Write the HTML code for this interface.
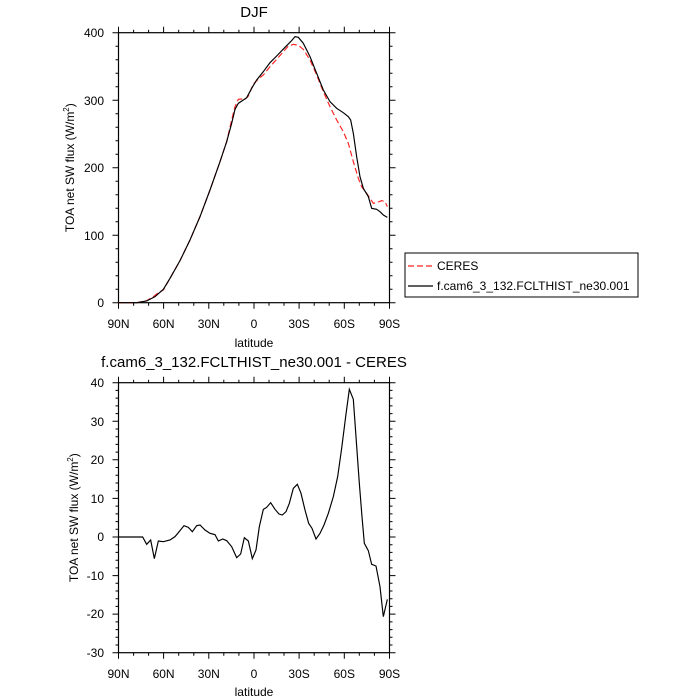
<!DOCTYPE html>
<html><head><style>body{margin:0;background:#fff}svg{display:block}text{font-family:"Liberation Sans",sans-serif;fill:#000}</style></head>
<body>
<svg width="700" height="700" viewBox="0 0 700 700">
<defs>
<g id="xt" stroke="#000" stroke-width="1">
<path d="M118.5 0v6M163.6 0v6M208.8 0v6M254 0v6M299.1 0v6M344.3 0v6M389.5 0v6"/>
<path d="M133.6 0v3M148.6 0v3M178.7 0v3M193.8 0v3M223.8 0v3M238.9 0v3M269 0v3M284 0v3M314.2 0v3M329.2 0v3M359.3 0v3M374.4 0v3"/>
</g>
</defs>
<!-- top plot -->
<rect x="118.5" y="32.7" width="271" height="270" fill="none" stroke="#000" stroke-width="1.2"/>
<use href="#xt" transform="translate(0,302.7)"/>
<use href="#xt" transform="translate(0,32.7) scale(1,-1)"/>
<g stroke="#000" stroke-width="1">
<path d="M112.5 32.7h6M112.5 100.2h6M112.5 167.7h6M112.5 235.2h6M112.5 302.7h6M389.5 32.7h6M389.5 100.2h6M389.5 167.7h6M389.5 235.2h6M389.5 302.7h6"/>
<path d="M115.5 46.2h3M115.5 59.7h3M115.5 73.2h3M115.5 86.7h3M115.5 113.7h3M115.5 127.2h3M115.5 140.7h3M115.5 154.2h3M115.5 181.2h3M115.5 194.7h3M115.5 208.2h3M115.5 221.7h3M115.5 248.7h3M115.5 262.2h3M115.5 275.7h3M115.5 289.2h3"/>
<path d="M389.5 46.2h3M389.5 59.7h3M389.5 73.2h3M389.5 86.7h3M389.5 113.7h3M389.5 127.2h3M389.5 140.7h3M389.5 154.2h3M389.5 181.2h3M389.5 194.7h3M389.5 208.2h3M389.5 221.7h3M389.5 248.7h3M389.5 262.2h3M389.5 275.7h3M389.5 289.2h3"/>
</g>
<g font-size="12" text-anchor="end"><text x="104" y="37">400</text><text x="104" y="105">300</text><text x="104" y="172">200</text><text x="104" y="240">100</text><text x="104" y="307">0</text></g>
<g font-size="12" text-anchor="middle"><text x="118.5" y="328">90N</text><text x="163.6" y="328">60N</text><text x="208.8" y="328">30N</text><text x="254" y="328">0</text><text x="299.1" y="328">30S</text><text x="344.3" y="328">60S</text><text x="389.5" y="328">90S</text></g>
<text x="254" y="347" font-size="12" text-anchor="middle">latitude</text>
<text x="254" y="17" font-size="15" text-anchor="middle">DJF</text>
<text transform="translate(74,167.7) rotate(-90)" font-size="12" text-anchor="middle">TOA net SW flux (W/m<tspan font-size="8" dy="-5">2</tspan><tspan dy="5">)</tspan></text>
<g transform="translate(100,20) scale(0.33333)" fill="none">
<path stroke="#f22" stroke-width="3.5" stroke-dasharray="18,9" d="M55 848L110 848 140 842 160 830 175 818 190 810 210 775 240 722 270 660 300 590 330 510 360 425 380 365 395 300 405 260 415 238 425 237 435 238 445 228 460 192 475 177 490 165 510 140 530 118 550 95 565 78 580 73 595 76 610 88 630 120 650 165 670 215 690 260 710 300 730 335 745 370 760 425 775 475 785 500 800 520 810 535 820 550 830 548 845 542 855 545 862 560"/>
<path stroke="#000" stroke-width="3.5" d="M55 848L110 848 140 843 165 830 190 808 210 775 240 722 270 660 300 590 330 510 360 425 380 365 395 310 405 268 415 250 430 240 440 233 455 205 470 180 490 155 510 128 530 108 555 82 575 62 585 50 595 52 610 70 630 110 650 160 670 210 690 245 710 265 730 278 745 290 752 300 760 340 770 410 780 470 790 505 805 530 815 565 830 568 840 575 850 585 862 592"/>
</g>
<!-- legend -->
<rect x="405" y="253" width="233" height="44" fill="none" stroke="#000" stroke-width="1"/>
<path d="M408 266h25" stroke="#f22" stroke-width="1.2" stroke-dasharray="6,3"/>
<path d="M408 286h25" stroke="#000" stroke-width="1.2"/>
<text x="437" y="270" font-size="12">CERES</text>
<text x="437" y="290" font-size="12">f.cam6_3_132.FCLTHIST_ne30.001</text>
<!-- bottom plot -->
<rect x="118.5" y="382.7" width="271" height="270" fill="none" stroke="#000" stroke-width="1.2"/>
<use href="#xt" transform="translate(0,652.7)"/>
<use href="#xt" transform="translate(0,382.7) scale(1,-1)"/>
<g stroke="#000" stroke-width="1">
<path d="M112.5 382.7h6M112.5 421.3h6M112.5 459.8h6M112.5 498.4h6M112.5 537h6M112.5 575.6h6M112.5 614.1h6M112.5 652.7h6M389.5 382.7h6M389.5 421.3h6M389.5 459.8h6M389.5 498.4h6M389.5 537h6M389.5 575.6h6M389.5 614.1h6M389.5 652.7h6"/>
<path d="M115.5 390.4h3M115.5 398.1h3M115.5 405.9h3M115.5 413.6h3M115.5 429h3M115.5 436.7h3M115.5 444.4h3M115.5 452.1h3M115.5 467.5h3M115.5 475.3h3M115.5 483h3M115.5 490.7h3M115.5 506.1h3M115.5 513.9h3M115.5 521.6h3M115.5 529.3h3M115.5 544.7h3M115.5 552.4h3M115.5 560.2h3M115.5 567.9h3M115.5 583.3h3M115.5 591h3M115.5 598.7h3M115.5 606.4h3M115.5 621.9h3M115.5 629.6h3M115.5 637.3h3M115.5 645h3"/>
<path d="M389.5 390.4h3M389.5 398.1h3M389.5 405.9h3M389.5 413.6h3M389.5 429h3M389.5 436.7h3M389.5 444.4h3M389.5 452.1h3M389.5 467.5h3M389.5 475.3h3M389.5 483h3M389.5 490.7h3M389.5 506.1h3M389.5 513.9h3M389.5 521.6h3M389.5 529.3h3M389.5 544.7h3M389.5 552.4h3M389.5 560.2h3M389.5 567.9h3M389.5 583.3h3M389.5 591h3M389.5 598.7h3M389.5 606.4h3M389.5 621.9h3M389.5 629.6h3M389.5 637.3h3M389.5 645h3"/>
</g>
<g font-size="12" text-anchor="end"><text x="104" y="387">40</text><text x="104" y="426">30</text><text x="104" y="464">20</text><text x="104" y="503">10</text><text x="104" y="541">0</text><text x="104" y="580">-10</text><text x="104" y="618">-20</text><text x="104" y="657">-30</text></g>
<g font-size="12" text-anchor="middle"><text x="118.5" y="678">90N</text><text x="163.6" y="678">60N</text><text x="208.8" y="678">30N</text><text x="254" y="678">0</text><text x="299.1" y="678">30S</text><text x="344.3" y="678">60S</text><text x="389.5" y="678">90S</text></g>
<text x="254" y="696" font-size="12" text-anchor="middle">latitude</text>
<text x="254" y="367" font-size="15" text-anchor="middle">f.cam6_3_132.FCLTHIST_ne30.001 - CERES</text>
<text transform="translate(78,517.7) rotate(-90)" font-size="12" text-anchor="middle">TOA net SW flux (W/m<tspan font-size="8" dy="-5">2</tspan><tspan dy="5">)</tspan></text>
<g transform="translate(100,370) scale(0.33333)" fill="none">
<path stroke="#000" stroke-width="3.5" d="M55 501L128 501 140 523 152 510 163 566 175 513 190 515 210 510 225 500 240 482 252 467 265 472 277 485 290 467 300 465 315 480 330 490 345 494 355 513 368 507 380 512 395 530 410 563 422 552 433 503 445 513 457 566 468 540 478 470 490 418 500 412 512 398 525 418 537 432 547 435 558 425 568 400 580 355 592 343 603 370 615 420 626 460 636 475 648 507 660 490 672 465 685 430 700 380 713 320 725 235 737 140 748 58 760 88 768 200 778 340 786 440 793 520 805 542 815 583 828 588 840 650 850 740 862 688"/>
</g>
</svg>
</body></html>
